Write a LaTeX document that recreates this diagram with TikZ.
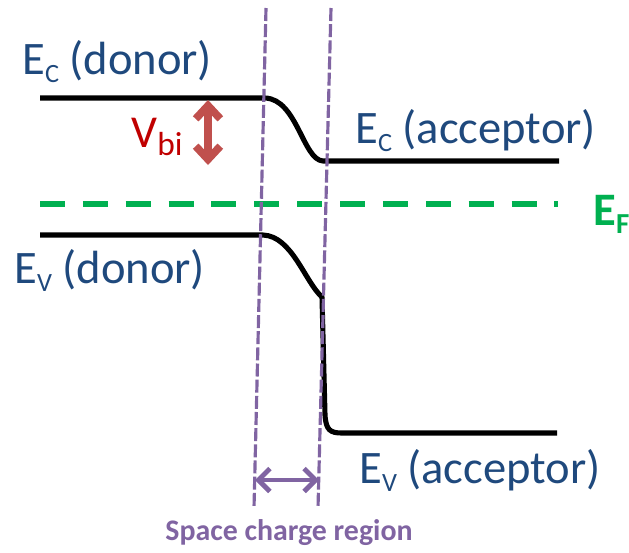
\documentclass[tikz,border=0pt]{standalone}
\usepackage{fontspec}
\setmainfont{Carlito}
\usetikzlibrary{arrows.meta}
\definecolor{txtblue}{HTML}{1F497D}
\definecolor{fermigreen}{HTML}{00B050}
\definecolor{scrpurple}{HTML}{8064A2}
\definecolor{vbiarrow}{HTML}{C0504D}
\definecolor{vbitext}{HTML}{C00000}
\newcommand{\lowsub}[2][15]{\raisebox{-5pt}{\fontsize{#1}{#1}\selectfont #2}}

\begin{document}
\begin{tikzpicture}[
    x=0.02cm, y=-0.02cm,
    band/.style={line width=2.9pt, line join=round},
    fermi/.style={fermigreen, line width=3.4pt, dash pattern=on 14.2pt off 10.2pt},
    edge/.style={scrpurple, line width=1.8pt, dash pattern=on 7.4pt off 1.8pt},
    lbl/.style={txtblue, anchor=base west, inner sep=0pt, font=\fontsize{26.5}{30}\selectfont},
    >={Straight Barb[length=7.5pt, width=14pt]}
]
    \useasboundingbox (0,0) rectangle (629,552);

    % 能带 (导带与价带)
    \draw[band] (40,98) -- (265,98) .. controls (297,99) and (303,160) .. (323,161) -- (559,161);
    \draw[band] (40,235) -- (263,235) .. controls (292,236) and (305,282) .. (322,297)
        -- (325,415) .. controls (326,430) and (330,433) .. (342,433) -- (557,433);

    % 费米能级
    \draw[fermi] (40,204) -- (558,204);

    % 空间电荷区边界
    \coordinate (LT) at (266,8);
    \coordinate (LB) at (254,508);
    \coordinate (RT) at (331,8);
    \coordinate (RB) at (318,508);
    \draw[edge] (LT) -- (LB);
    \draw[edge] (RT) -- (RB);

    % 箭头
    \coordinate (VT) at (208,100);
    \coordinate (VB) at (208,165);
    \draw[<->, vbiarrow, line width=4.4pt] (VT) -- (VB);
    \coordinate (WL) at (255,480);
    \coordinate (WR) at (319,480);
    \draw[<->, scrpurple, line width=2.8pt, >={Straight Barb[length=6.5pt, width=13pt]}] (WL) -- (WR);

    % 标签
    \node[lbl] (ECd) at (22,74) {E\lowsub{C} (donor)};
    \node[lbl] (ECa) at (355,143) {E\lowsub{C} (acceptor)};
    \node[lbl] (EVd) at (14,283) {E\lowsub{V} (donor)};
    \node[lbl] (EVa) at (359,483) {E\lowsub{V} (acceptor)};
    \node[lbl, vbitext, font=\fontsize{26}{28}\selectfont] (Vbi) at (131,147) {V\lowsub[19]{bi}};
    \node[lbl, fermigreen, font=\fontsize{26.5}{28}\selectfont\bfseries] (EF) at (593,225) {E\lowsub[16.5]{F}};
    \node[scrpurple, inner sep=0pt, anchor=base, font=\fontsize{17}{19}\selectfont\bfseries] (SCR) at (289,540) {Space charge region};
\end{tikzpicture}
\end{document}
